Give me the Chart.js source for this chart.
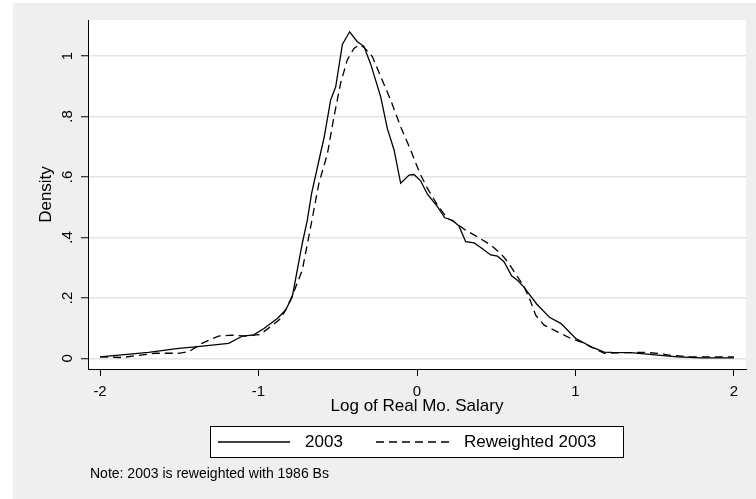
<!DOCTYPE html>
<html>
<head>
<meta charset="utf-8">
<script src="https://cdn.jsdelivr.net/npm/chart.js@4"></script>
<style>
  body { margin: 0; background: #fff; }
  #wrap { width: 756px; height: 499px; }
</style>
</head>
<body>
<div id="wrap"><canvas id="densityChart" width="756" height="499"></canvas></div>
<script>
// Kernel density curves
const x2003 = [-2.0, -1.694, -1.504, -1.399, -1.189, -1.10, -1.03, -0.966, -0.881, -0.829, -0.787,
  -0.724, -0.692, -0.665, -0.608, -0.587, -0.545, -0.513, -0.471, -0.425, -0.378, -0.335, -0.292,
  -0.229, -0.187, -0.145, -0.103, -0.05, -0.019, 0.023, 0.066, 0.129, 0.175, 0.223, 0.265, 0.307,
  0.36, 0.402, 0.465, 0.508, 0.549, 0.597, 0.639, 0.676, 0.755, 0.838, 0.907, 0.949, 1.002, 1.10,
  1.181, 1.23, 1.349, 1.518, 1.644, 1.791, 2.0];
const y2003 = [0.005, 0.020, 0.033, 0.038, 0.050, 0.074, 0.078, 0.099, 0.132, 0.160, 0.204,
  0.380, 0.457, 0.546, 0.680, 0.728, 0.854, 0.898, 1.038, 1.080, 1.048, 1.032, 0.973,
  0.865, 0.760, 0.690, 0.579, 0.606, 0.608, 0.587, 0.543, 0.502, 0.465, 0.457, 0.438, 0.386,
  0.382, 0.367, 0.342, 0.338, 0.320, 0.273, 0.256, 0.235, 0.180, 0.135, 0.116, 0.094, 0.066, 0.038,
  0.021, 0.020, 0.019, 0.011, 0.005, 0.002, 0.002];

const xRew = [-2.0, -1.862, -1.652, -1.504, -1.441, -1.357, -1.252, -1.168, -1.083, -0.99, -0.924,
  -0.86, -0.818, -0.777, -0.724, -0.671, -0.619, -0.566, -0.524, -0.482, -0.44, -0.398, -0.366,
  -0.335, -0.282, -0.229, -0.166, -0.103, -0.04, 0.018, 0.066, 0.129, 0.192, 0.234, 0.307, 0.381,
  0.465, 0.528, 0.576, 0.634, 0.676, 0.718, 0.749, 0.802, 0.886, 0.97, 1.033, 1.097, 1.16, 1.181,
  1.307, 1.433, 1.518, 1.602, 1.728, 1.896, 2.0];
const yRew = [0.005, 0.003, 0.017, 0.017, 0.022, 0.050, 0.074, 0.077, 0.074, 0.079, 0.105,
  0.132, 0.171, 0.220, 0.292, 0.435, 0.579, 0.675, 0.799, 0.910, 0.987, 1.025, 1.036,
  1.029, 0.998, 0.932, 0.854, 0.766, 0.689, 0.612, 0.562, 0.507, 0.463, 0.452, 0.424, 0.402,
  0.375, 0.347, 0.317, 0.270, 0.237, 0.187, 0.143, 0.110, 0.088, 0.066, 0.055, 0.038, 0.022, 0.017,
  0.019, 0.020, 0.017, 0.010, 0.005, 0.005, 0.005];

const seriesLabels = ["2003", "Reweighted 2003"];
const xTicks = [-2, -1, 0, 1, 2];
const xTickLabels = ["-2", "-1", "0", "1", "2"];
const yTicks = [0, 0.2, 0.4, 0.6, 0.8, 1];
const yTickLabels = ["0", ".2", ".4", ".6", ".8", "1"];
const note = "Note: 2003 is reweighted with 1986 Bs";

const FONT = "'Liberation Sans', Arial, sans-serif";
Chart.defaults.font.family = FONT;
Chart.defaults.color = "#000";

function toPoints(xs, ys) {
    return xs.map((x, i) => ({ x: x, y: ys[i] }));
}

// gray page + white plot region
const backdrop = {
    id: "backdrop",
    beforeDraw(chart) {
        const c = chart.ctx, a = chart.chartArea;
        c.save();
        c.fillStyle = "#fff";
        c.fillRect(0, 0, chart.width, chart.height);
        c.fillStyle = "#efefef";
        c.fillRect(13, 3, chart.width - 13, chart.height - 3);
        c.fillStyle = "#fff";
        c.fillRect(a.left, a.top, a.right - a.left, a.bottom - a.top);
        c.restore();
    }
};

// boxed legend and note under the plot, Stata style
const boxLegend = {
    id: "boxLegend",
    afterDraw(chart) {
        const c = chart.ctx;
        const ds = chart.data.datasets;
        c.save();
        c.fillStyle = "#fff";
        c.fillRect(210, 426, 413, 31);
        c.strokeStyle = "#000";
        c.lineWidth = 1;
        c.strokeRect(210.5, 426.5, 413, 31);

        const rowY = 442;
        const items = [
            { x0: 218, x1: 290, tx: 324, align: "center" },
            { x0: 376, x1: 449, tx: 464, align: "left" }
        ];
        items.forEach((it, i) => {
            c.beginPath();
            c.lineWidth = ds[i].borderWidth;
            c.setLineDash(ds[i].borderDash || []);
            c.moveTo(it.x0, rowY);
            c.lineTo(it.x1, rowY);
            c.stroke();
            c.setLineDash([]);
            c.fillStyle = "#000";
            c.font = "17px " + FONT;
            c.textAlign = it.align;
            c.textBaseline = "middle";
            c.fillText(ds[i].label, it.tx, rowY);
        });

        c.font = "14px " + FONT;
        c.textAlign = "left";
        c.textBaseline = "middle";
        c.fillText(note, 90, 474);
        c.restore();
    }
};

new Chart(document.getElementById("densityChart"), {
    type: "line",
    data: {
        datasets: [
            {
                label: seriesLabels[0],
                data: toPoints(x2003, y2003),
                borderColor: "#000",
                borderWidth: 1.3,
                pointRadius: 0,
                tension: 0
            },
            {
                label: seriesLabels[1],
                data: toPoints(xRew, yRew),
                borderColor: "#000",
                borderWidth: 1.3,
                borderDash: [8, 5],
                pointRadius: 0,
                tension: 0
            }
        ]
    },
    options: {
        responsive: false,
        animation: false,
        layout: { padding: { left: 0, top: 20, right: 10, bottom: 80 } },
        plugins: {
            legend: { display: false },
            tooltip: { enabled: false }
        },
        scales: {
            x: {
                type: "linear",
                min: -2.076,
                max: 2.076,
                afterFit: (s) => { s.height = 50; },
                afterBuildTicks: (s) => { s.ticks = xTicks.map(v => ({ value: v })); },
                grid: { drawOnChartArea: false, tickLength: 7, tickColor: "#000", tickWidth: 1 },
                border: { color: "#000", width: 1 },
                ticks: {
                    padding: 7,
                    font: { size: 15 },
                    maxRotation: 0,
                    callback: (v) => xTickLabels[xTicks.indexOf(v)]
                },
                title: {
                    display: true,
                    text: "Log of Real Mo. Salary",
                    font: { size: 17 },
                    padding: { top: 0, bottom: 2 }
                }
            },
            y: {
                type: "linear",
                min: -0.035,
                max: 1.119,
                afterFit: (s) => { s.width = 88; },
                afterBuildTicks: (s) => { s.ticks = yTicks.map(v => ({ value: v })); },
                grid: { color: "#e4e4e4", lineWidth: 1.5, tickLength: 7, tickColor: "#000", tickWidth: 1 },
                border: { color: "#000", width: 1 },
                ticks: {
                    padding: 7,
                    crossAlign: "center",
                    minRotation: 90,
                    maxRotation: 90,
                    font: { size: 15 },
                    callback: (v) => yTickLabels[yTicks.indexOf(v)]
                },
                title: {
                    display: true,
                    text: "Density",
                    font: { size: 17 },
                    padding: { top: 36, bottom: 0 }
                }
            }
        }
    },
    plugins: [backdrop, boxLegend]
});
</script>
</body>
</html>
